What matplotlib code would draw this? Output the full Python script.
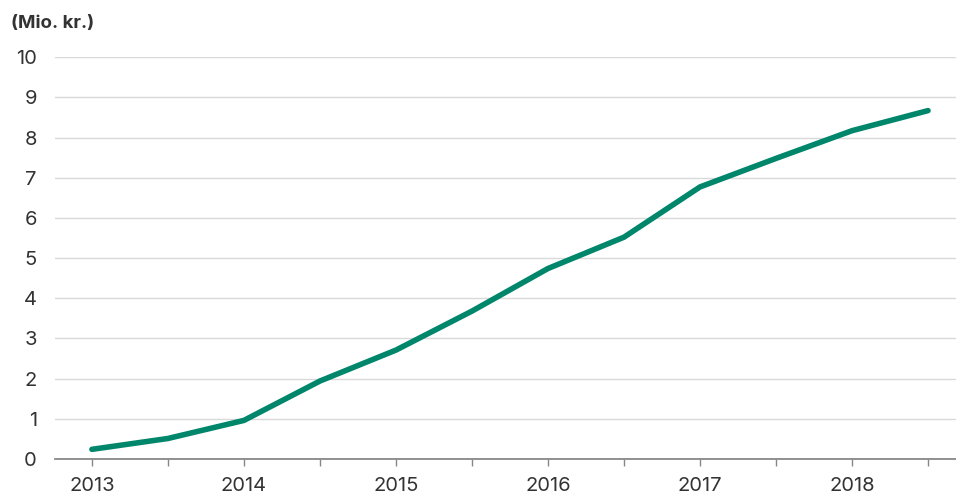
import matplotlib
matplotlib.use('Agg')
import matplotlib.pyplot as plt

# half-year data points
periods = [2013, 2013.5, 2014, 2014.5, 2015, 2015.5, 2016, 2016.5, 2017, 2017.5, 2018, 2018.5]
values = [0.24, 0.51, 0.96, 1.94, 2.71, 3.68, 4.74, 5.52, 6.77, 7.48, 8.17, 8.67]
year_labels = ['2013', '2014', '2015', '2016', '2017', '2018']

plt.rcParams['font.family'] = ['Inter', 'DejaVu Sans']

fig = plt.figure(figsize=(9.56, 4.97), dpi=100)
ax = fig.add_axes([0.0575, 0.0765, 0.9425, 0.8085])

ax.plot(periods, values, color='#00866a', lw=4, solid_capstyle='round',
        solid_joinstyle='round', clip_on=False, zorder=3)

ax.set_xlim(2012.757, 2018.684)
ax.set_ylim(0, 10)
ax.set_yticks(range(0, 11))
ax.grid(axis='y', color='#d9d9d9', lw=1)
ax.set_axisbelow(True)

ticks = [2013 + 0.5 * i for i in range(12)]
labels = []
for t in ticks:
    labels.append(year_labels[int(t) - 2013] if t == int(t) else '')
ax.set_xticks(ticks)
ax.set_xticklabels(labels)

for s in ['top', 'right', 'left']:
    ax.spines[s].set_visible(False)
ax.spines['bottom'].set_color('#888888')
ax.spines['bottom'].set_linewidth(1.3)
ax.tick_params(axis='x', colors='#888888', length=5, width=1, pad=8,
               labelcolor='#333333', labelsize=14.5)
ax.tick_params(axis='y', length=0, pad=13, labelcolor='#333333', labelsize=14.5)

fig.text(0.011, 0.952, '(Mio. kr.)', fontsize=13.5, fontweight='bold',
         color='#333333', va='center')

fig.savefig('out.png', dpi=100)
